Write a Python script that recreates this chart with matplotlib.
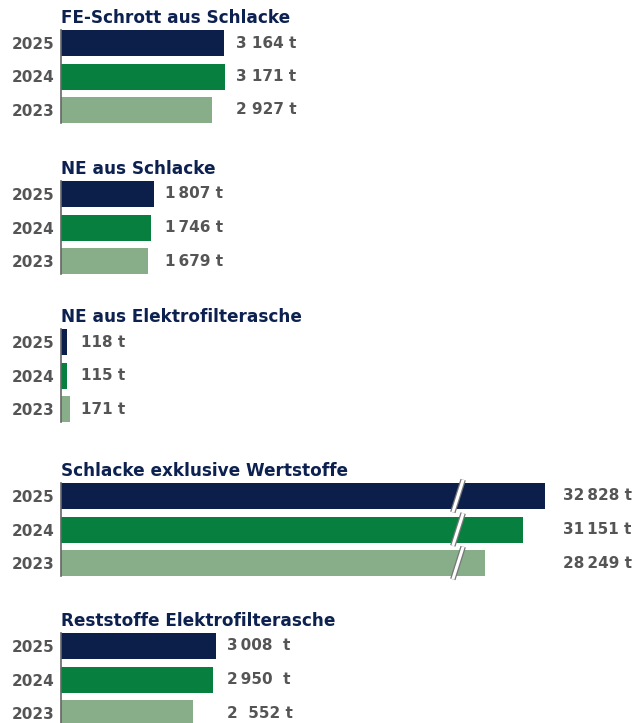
import matplotlib
matplotlib.use("Agg")
import matplotlib.pyplot as plt


years = ["2025", "2024", "2023"]

titles = ["FE-Schrott aus Schlacke",
          "NE aus Schlacke",
          "NE aus Elektrofilterasche",
          "Schlacke exklusive Wertstoffe",
          "Reststoffe Elektrofilterasche"]

fe_schrott = [3164, 3171, 2927]
ne_schlacke = [1807, 1746, 1679]
ne_efa = [118, 115, 171]
schlacke_exkl = [32828, 31151, 28249]
reststoffe_efa = [3008, 2950, 2552]

labels_fe = ["3 164 t", "3 171 t", "2 927 t"]
labels_ne = ["1\u2009807 t", "1\u2009746 t", "1\u2009679 t"]
labels_efa = ["118 t", "115 t", "171 t"]
labels_exkl = ["32\u2009828 t", "31\u2009151 t", "28\u2009249 t"]
labels_rest = ["3\u2009008  t", "2\u2009950  t", "2  552 t"]

values = [fe_schrott, ne_schlacke, ne_efa, schlacke_exkl, reststoffe_efa]
labels = [labels_fe, labels_ne, labels_efa, labels_exkl, labels_rest]

colors = ["#0c1f4a", "#077f3e", "#87ad89"]
navy = "#0d2150"
grey = "#555555"

W, H = 637, 723
fig = plt.figure(figsize=(W / 100, H / 100), dpi=100)

tops = [30, 181, 329, 483, 633]        # pixel top of first bar in each block
left_px, width_px, block_px = 61, 576, 93
pitch = 33.5
bh = 26 / pitch

for i in range(5):
    ax = fig.add_axes([left_px / W, 1 - (tops[i] + block_px) / H,
                       width_px / W, block_px / H])
    broken = (i == 3)
    if broken:
        # compressed scale for the big block (axis break drawn below)
        lo = -4120
        ax.set_xlim(lo, lo + width_px / 0.0131)
        ax.barh(range(3), [v - lo for v in values[i]], left=lo, height=bh, color=colors)
    else:
        ax.set_xlim(0, width_px / 0.0516)
        ax.barh(range(3), values[i], height=bh, color=colors)
    ax.set_ylim(2 + bh / 2, -bh / 2)

    for s in ["top", "right", "bottom"]:
        ax.spines[s].set_visible(False)
    ax.spines["left"].set_color("#666666")
    ax.spines["left"].set_linewidth(1.2)
    ax.set_xticks([])
    ax.set_yticks(range(3))
    ax.set_yticklabels(years, fontsize=11, fontweight="bold", color=grey)
    ax.tick_params(axis="y", length=0, pad=5)

    ax.annotate(titles[i], xy=(0, 1), xycoords="axes fraction",
                xytext=(0, 5), textcoords="offset points",
                ha="left", va="baseline", fontsize=12.2, fontweight="bold", color=navy)

    for j in range(3):
        if broken:
            ax.text(0.991, j, labels[i][j], transform=ax.get_yaxis_transform(),
                    ha="right", va="center", fontsize=11, fontweight="bold", color=grey)
        else:
            ax.annotate(labels[i][j], xy=(max(values[i]), j), xytext=(8, 0),
                        textcoords="offset points", ha="left", va="center",
                        fontsize=11, fontweight="bold", color=grey)

    if broken:
        xb = 397 / width_px
        for j in range(3):
            y0 = j + bh / 2 + 0.1
            y1 = j - bh / 2 - 0.1
            for lw, c in [(4.0, "#777777"), (2.2, "white")]:
                ax.plot([xb - 0.009, xb + 0.009], [y0, y1], color=c, lw=lw,
                        transform=ax.get_yaxis_transform(), clip_on=False,
                        solid_capstyle="butt")

plt.savefig("out.png", dpi=100)
